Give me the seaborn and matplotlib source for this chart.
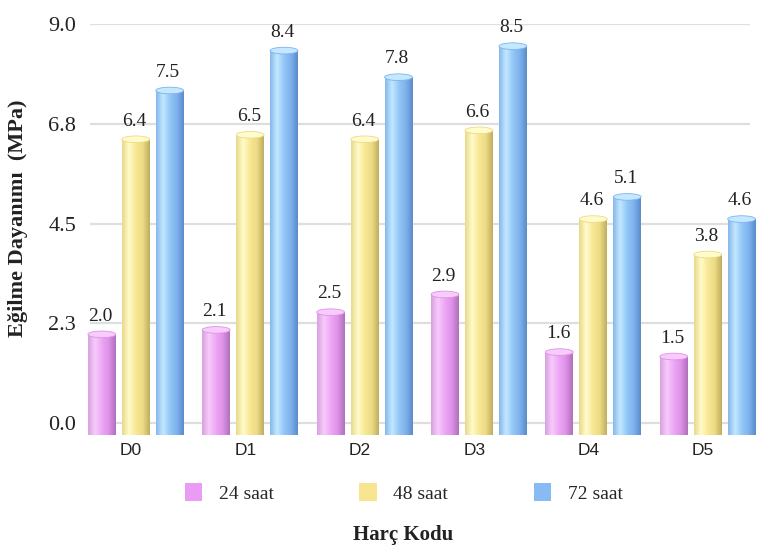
import numpy as np
import pandas as pd
import matplotlib
matplotlib.use('Agg')
import matplotlib.pyplot as plt
import seaborn as sns
from matplotlib.colors import LinearSegmentedColormap
from matplotlib.patches import Ellipse, Patch

# data
codes = ['D0', 'D1', 'D2', 'D3', 'D4', 'D5']
series = ['24 saat', '48 saat', '72 saat']
s24 = [2.0, 2.1, 2.5, 2.9, 1.6, 1.5]
s48 = [6.4, 6.5, 6.4, 6.6, 4.6, 3.8]
s72 = [7.5, 8.4, 7.8, 8.5, 5.1, 4.6]
ytick_vals = [0.0, 2.25, 4.5, 6.75, 9.0]
ytick_labels = ['0.0', '2.3', '4.5', '6.8', '9.0']

base_colors = ['#EA9CF4', '#F9E58F', '#88BBF4']
# light highlight -> base -> dark edge, for the cylinder look
shades = [
    ['#D9A0E0', '#F7CCFB', '#EDA6F5', '#DE92E8', '#B070BA'],
    ['#E8D88A', '#FFFBCB', '#F8E894', '#EDDB85', '#BFAE5E'],
    ['#86B8EC', '#C4E8FF', '#93C7F7', '#7FB2EC', '#5A8CCB'],
]

df = pd.DataFrame({
    'code': codes * 3,
    'series': [s for s in series for _ in codes],
    'value': s24 + s48 + s72,
})

sns.set_style('white')
serif = ['Liberation Serif', 'DejaVu Serif']
sans = ['Liberation Sans', 'DejaVu Sans']

fig = plt.figure(figsize=(7.6, 5.51), dpi=100)
ax = fig.add_axes([90 / 760, 1 - 435 / 551, 660 / 760, 411 / 551])

sns.barplot(data=df, x='code', y='value', hue='series', hue_order=series,
            palette=base_colors, width=0.89, gap=0.18, legend=False,
            errorbar=None, ax=ax, zorder=2)

floor = -0.27
xlim = (-0.4, 5.37)

for k, cont in enumerate(ax.containers):
    cmap = LinearSegmentedColormap.from_list(f'cyl{k}', shades[k])
    grad = np.linspace(0, 1, 64).reshape(1, -1)
    for bar, v in zip(cont.patches, cont.datavalues):
        x0 = bar.get_x()
        w = bar.get_width()
        bar.set_y(floor)
        bar.set_height(v - floor)
        bar.set_edgecolor('none')
        bar.set_clip_on(False)
        im = ax.imshow(grad, cmap=cmap, aspect='auto', extent=(x0, x0 + w, floor, v),
                       zorder=3, interpolation='bicubic')
        im.set_clip_path(bar)
        ax.add_patch(Ellipse((x0 + w / 2, v), w, 0.15, facecolor=shades[k][1],
                             edgecolor=shades[k][3], lw=0.6, zorder=4, clip_on=False))
        ax.annotate(f'{v:.1f}', (x0 + w / 2, v), xytext=(-1, 7), textcoords='offset points',
                    ha='center', va='bottom', fontsize=14, family=serif, color='#222222',
                    annotation_clip=False)

ax.set_ylim(floor, 9.0)
ax.set_xlim(*xlim)

ax.set_yticks(ytick_vals)
ax.set_yticklabels(ytick_labels, family=serif, fontsize=16, color='#222222')
ax.set_xticks(np.arange(len(codes)) - 0.04)
ax.set_xticklabels(codes, family=sans, fontsize=12.5, color='#222222')
ax.tick_params(axis='both', length=0)
ax.tick_params(axis='y', pad=10)
ax.tick_params(axis='x', pad=6)
ax.set_xlabel('')
ax.set_ylabel('')
for s in ax.spines.values():
    s.set_visible(False)
ax.yaxis.grid(True, color='#DEDEDE', lw=1.6, zorder=0)
ax.set_axisbelow(True)

handles = [Patch(facecolor=c, edgecolor='none') for c in base_colors]
fig.legend(handles, series, loc='center', bbox_to_anchor=(0.531, 0.105), ncol=3,
           frameon=False, prop={'family': serif, 'size': 14},
           handlelength=0.9, handleheight=1.0, handletextpad=0.85, columnspacing=4.4)

fig.text(0.53, 0.029, 'Harç Kodu', ha='center', va='center', family=serif,
         fontsize=15, fontweight='bold', color='#222222')
fig.text(0.024, 0.604, 'Eğilme Dayanımı  (MPa)', ha='center', va='center', rotation=90,
         family=serif, fontsize=16, fontweight='bold', color='#222222')

fig.savefig('out.png', dpi=100)
